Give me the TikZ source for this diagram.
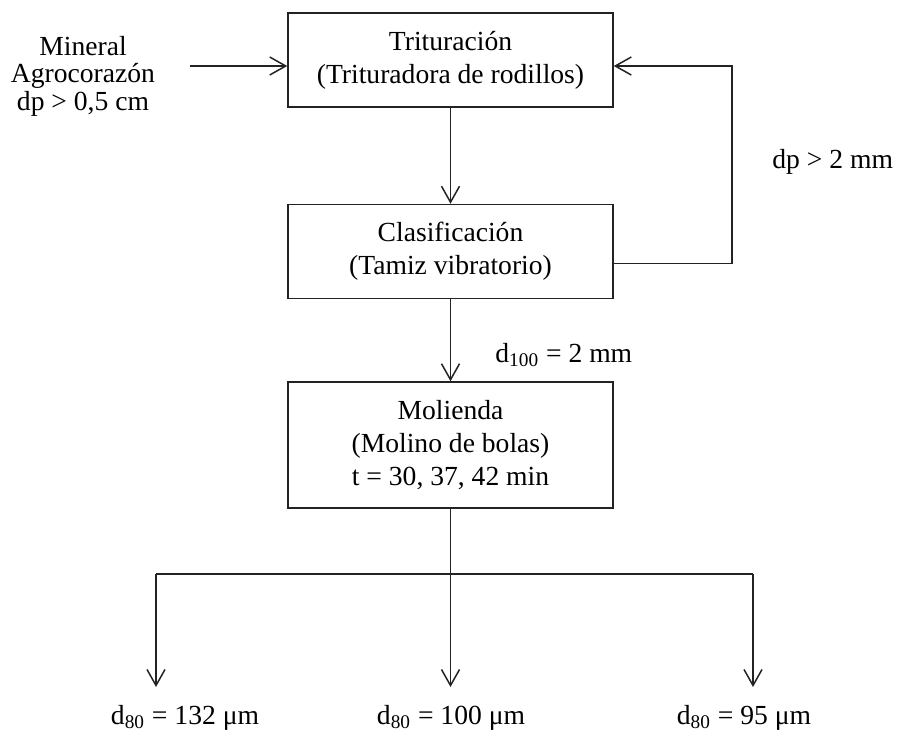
\documentclass[tikz,border=0pt]{standalone}
\usepackage{fontspec}
\setmainfont{Liberation Serif}
\usetikzlibrary{arrows.meta, positioning}
\definecolor{mydark}{RGB}{35,35,35}
\tikzset{
  procbox/.style={rectangle, draw=mydark, line width=0.75pt,
    minimum width=162.5pt, minimum height=47pt, align=center, inner sep=0pt},
  lbl/.style={inner sep=0pt, align=center},
  arrow/.style={-{Straight Barb[length=8pt, width=9pt]}, line width=0.75pt, color=mydark},
  line/.style={line width=0.75pt, color=mydark}
}

\begin{document}
\begin{tikzpicture}[x=0.5pt, y=-0.5pt, font=\fontsize{13.8}{16.5}\selectfont]
  \useasboundingbox (0,0) rectangle (898,730);

  % process steps
  \node[procbox] (trit) at (450.5,60) {Trituración\\(Trituradora de rodillos)};
  \node[procbox, below=48pt of trit] (clas) {Clasificación\\(Tamiz vibratorio)};
  \node[procbox, below=41pt of clas, minimum height=63pt] (mol) {Molienda\\(Molino de bolas)\\t = 30, 37, 42 min};

  % feed
  \node[lbl, font=\fontsize{13.8}{13.75}\selectfont] (feed) at (83,76) {Mineral\\Agrocorazón\\dp > 0,5 cm};
  \coordinate (in) at (190,66);
  \draw[arrow] (in) -- (in -| trit.west);

  % crushing and screening loop
  \draw[arrow] (trit.south) -- (clas.north);
  \draw[arrow] ([yshift=-6pt]clas.east) -- ++(118,0) |- ([yshift=-3pt]trit.east);
  \node[lbl, anchor=west] (dp2) at (772,162) {dp > 2 mm};

  \draw[arrow] (clas.south) -- (mol.north);
  \node[lbl, anchor=west] (d100) at (495,355) {d\textsubscript{100} = 2 mm};

  % milling products
  \coordinate (b1) at (156,574);
  \coordinate (b2) at (mol.south |- b1);
  \coordinate (b3) at (753,574);
  \draw[line] (mol.south) -- (b2);
  \draw[line] (b1) -- (b3);
  \foreach \i in {1,2,3}
    \draw[arrow] (b\i) -- ++(0,113);

  \node[lbl, anchor=base] (out1) at (185,724) {d\textsubscript{80} = 132 μm};
  \node[lbl, anchor=base] (out2) at (451,724) {d\textsubscript{80} = 100 μm};
  \node[lbl, anchor=base] (out3) at (744,724) {d\textsubscript{80} = 95 μm};
\end{tikzpicture}
\end{document}
